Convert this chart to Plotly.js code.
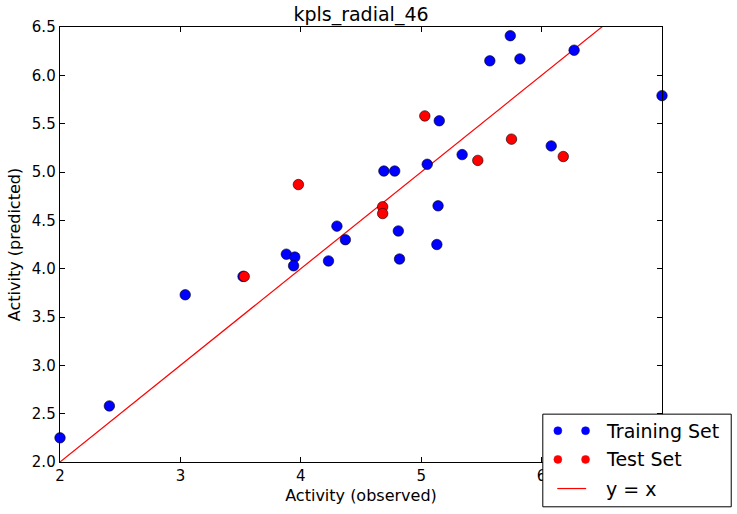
<!DOCTYPE html>
<html>
<head>
<meta charset="utf-8">
<script src="https://cdn.plot.ly/plotly-3.0.1.min.js"></script>
<style>html,body{margin:0;padding:0;background:#fff;}#chart{width:737px;height:514px;}</style>
</head>
<body>
<div id="chart"></div>
<script>
const trainObserved = [2.00, 2.41, 3.04, 3.52, 3.88, 3.95, 3.94, 4.23, 4.30, 4.37, 4.69, 4.78, 4.81, 4.82, 5.05, 5.13, 5.14, 5.15, 5.34, 5.57, 5.74, 5.82, 6.08, 6.27, 7.00];
const trainPredicted = [2.25, 2.58, 3.73, 3.92, 4.15, 4.12, 4.03, 4.08, 4.44, 4.30, 5.01, 5.01, 4.39, 4.10, 5.08, 4.25, 4.65, 5.53, 5.18, 6.15, 6.41, 6.17, 5.27, 6.26, 5.79];
const testObserved = [3.53, 3.98, 4.68, 4.68, 5.03, 5.47, 5.75, 6.18];
const testPredicted = [3.92, 4.87, 4.64, 4.57, 5.58, 5.12, 5.34, 5.16];
const identityLine = [2, 7];
const xTicks = [2, 3, 4, 5, 6, 7];
// the "7" label is hidden behind the legend box in the reference
const xTickLabels = ["2", "3", "4", "5", "6", ""];
const yTicks = [2.0, 2.5, 3.0, 3.5, 4.0, 4.5, 5.0, 5.5, 6.0, 6.5];
const legendLabels = ["Training Set", "Test Set", "y = x"];

const FONT = "DejaVu Sans, sans-serif";

const traces = [
  {x: identityLine, y: identityLine, mode: "lines", name: legendLabels[2],
   line: {color: "#ff0000", width: 1.2}, showlegend: false, cliponaxis: true},
  {x: trainObserved, y: trainPredicted, mode: "markers", name: legendLabels[0],
   marker: {color: "#0000ff", size: 10.5, line: {color: "#000000", width: 0.6}}, showlegend: false, cliponaxis: false},
  {x: testObserved, y: testPredicted, mode: "markers", name: legendLabels[1],
   marker: {color: "#ff0000", size: 10.5, line: {color: "#000000", width: 0.6}}, showlegend: false, cliponaxis: false}
];

// legend geometry (paper coords)
const lx0 = 0.802, lx1 = 1.115, ly0 = -0.103, ly1 = 0.110;
const rowY = [0.072, 0.006, -0.061];
const m1x = 0.827, m2x = 0.873, txtX = 0.903;
const legendColors = ["#0000ff", "#ff0000"];

const shapes = [
  {type: "rect", xref: "paper", yref: "paper", x0: lx0, x1: lx1, y0: ly0, y1: ly1,
   fillcolor: "#ffffff", line: {color: "#000000", width: 1}, layer: "above"}
];
for (let i = 0; i < 2; i++) {
  [m1x, m2x].forEach(mx => {
    shapes.push({type: "circle", xref: "paper", yref: "paper", xsizemode: "pixel", ysizemode: "pixel",
      xanchor: mx, yanchor: rowY[i], x0: -4, x1: 4, y0: -4, y1: 4,
      fillcolor: legendColors[i], line: {color: legendColors[i], width: 0.5}, layer: "above"});
  });
}
shapes.push({type: "line", xref: "paper", yref: "paper", x0: m1x - 0.001, x1: m2x + 0.001, y0: rowY[2], y1: rowY[2],
  line: {color: "#ff0000", width: 1.2}, layer: "above"});

const annotations = legendLabels.map((t, i) => ({
  text: t, xref: "paper", yref: "paper", x: txtX, y: rowY[i], xanchor: "left", yanchor: "middle",
  showarrow: false, font: {family: FONT, size: 19, color: "#000000"}
}));

const axisCommon = {
  showgrid: false, zeroline: false, showline: true, linecolor: "#000000", linewidth: 1.3,
  mirror: "ticks", ticks: "inside", ticklen: 5, tickwidth: 1, tickcolor: "#000000",
  tickfont: {family: FONT, size: 15, color: "#000000"}
};

const layout = {
  width: 737, height: 514,
  margin: {l: 60, r: 75, t: 27, b: 52},
  paper_bgcolor: "#ffffff", plot_bgcolor: "#ffffff",
  showlegend: false,
  title: {text: "kpls_radial_46", font: {family: FONT, size: 19, color: "#000000"},
          x: 0.5, xref: "paper", y: 0.973, yref: "container", yanchor: "middle"},
  xaxis: Object.assign({}, axisCommon, {
    range: [2, 7], tickvals: xTicks, ticktext: xTickLabels,
    title: {text: "Activity (observed)", font: {family: FONT, size: 16, color: "#000000"}, standoff: 5}
  }),
  yaxis: Object.assign({}, axisCommon, {
    range: [2, 6.5], tickvals: yTicks, ticktext: yTicks.map(v => v.toFixed(1)),
    title: {text: "Activity (predicted)", font: {family: FONT, size: 16, color: "#000000"}, standoff: 7}
  }),
  shapes: shapes,
  annotations: annotations
};

Plotly.newPlot("chart", traces, layout, {staticPlot: true, displayModeBar: false});
</script>
</body>
</html>
